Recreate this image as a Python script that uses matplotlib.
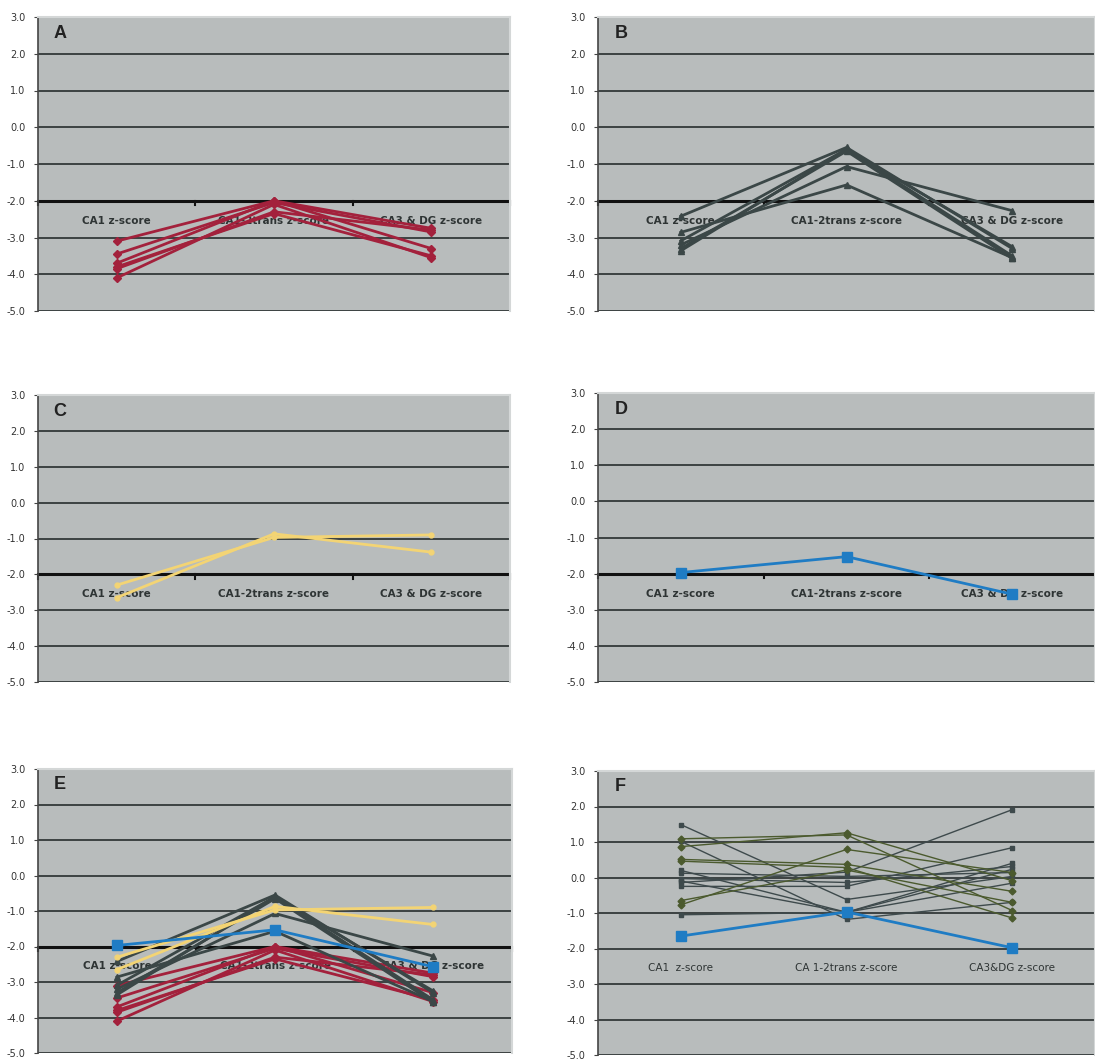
import matplotlib
matplotlib.use('Agg')
import matplotlib.pyplot as plt
import numpy as np

categories = ['CA1 z-score', 'CA1-2trans z-score', 'CA3 & DG z-score']
categories_f = ['CA1  z-score', 'CA 1-2trans z-score', 'CA3&DG z-score']
yticks = [3.0, 2.0, 1.0, 0.0, -1.0, -2.0, -3.0, -4.0, -5.0]

# group A (red)
red_lines = [
    [-3.10, -2.00, -2.75],
    [-3.45, -2.05, -2.85],
    [-3.70, -2.00, -3.30],
    [-3.80, -2.35, -3.50],
    [-4.10, -2.10, -3.55],
    [-3.85, -2.30, -2.80],
]
# group B (dark slate)
dark_lines = [
    [-2.42, -0.55, -3.30],
    [-2.86, -1.57, -3.55],
    [-3.09, -0.60, -3.25],
    [-3.20, -1.07, -2.27],
    [-3.30, -0.65, -3.57],
    [-3.36, -0.60, -3.50],
]
# group C (yellow)
yellow_lines = [
    [-2.65, -0.87, -1.38],
    [-2.30, -0.97, -0.90],
]
# group D (blue)
blue_line = [-1.97, -1.53, -2.57]

# panel F
f_slate = [
    [1.49, -0.62, 0.03],
    [1.02, -1.18, -0.70],
    [0.20, -0.98, 0.23],
    [0.12, 0.03, 0.14],
    [-0.03, -0.14, 0.31],
    [-0.14, 0.15, 1.91],
    [-0.25, -0.25, 0.84],
    [-0.10, -0.98, 0.40],
    [-1.05, -0.98, -0.16],
]
f_olive = [
    [1.09, 1.20, -0.93],
    [0.87, 1.26, -0.09],
    [0.51, 0.37, -0.39],
    [0.46, 0.28, -1.14],
    [-0.65, 0.21, -0.70],
    [-0.77, 0.79, 0.14],
]
f_blue = [-1.65, -0.97, -1.98]

BG = '#b8bcbc'
GRID = '#3c4242'
RED = '#a3213c'
DARK = '#3b4747'
YELLOW = '#f3d474'
BLUE = '#1f7cc4'
SLATE = '#3e4a4c'
OLIVE = '#4b5a2e'

x = np.array([0.5, 1.5, 2.5])

fig = plt.figure(figsize=(10.95, 10.59), dpi=100)
W, H = 1095, 1059


def make_ax(left, right, top, bottom):
    return fig.add_axes([left / W, (H - bottom) / H, (right - left) / W, (bottom - top) / H])


def setup(ax, letter, labels, bold_axis=True):
    ax.set_facecolor(BG)
    ax.set_xlim(0, 3)
    ax.set_ylim(-5, 3)
    for y in yticks[1:]:
        ax.axhline(y, color=GRID, lw=1.4, zorder=1)
    ax.set_yticks(yticks)
    ax.set_yticklabels(['%.1f' % v for v in yticks], fontsize=7, color='#333333')
    ax.tick_params(axis='y', length=3, width=0.8, color='#444444', pad=6)
    ax.set_xticks([])
    ax.spines['bottom'].set_visible(False)
    ax.spines['top'].set_color('#d4d7d7')
    ax.spines['right'].set_color('#d4d7d7')
    ax.spines['top'].set_linewidth(1.5)
    ax.spines['right'].set_linewidth(1.5)
    ax.spines['left'].set_color('#444444')
    ax.spines['left'].set_linewidth(1.2)
    if bold_axis:
        ax.axhline(-2.0, color='#111111', lw=2.2, zorder=2)
        for xt in [0, 1, 2, 3]:
            ax.plot([xt, xt], [-2.0, -2.12], color='#111111', lw=1.5, zorder=2, clip_on=False)
    for xi, lab in zip(x, labels):
        ax.text(xi, -2.56, lab, ha='center', va='center', fontsize=7.5,
                fontweight='bold' if bold_axis else 'normal', color='#2e3434', zorder=3)
    ax.text(0.1, 2.55, letter, fontsize=13, fontweight='bold', color='#222222',
            va='center', ha='left', family='Liberation Sans')


def draw_red(ax):
    for v in red_lines:
        ax.plot(x, v, color=RED, lw=2, marker='D', ms=4, zorder=4)


def draw_dark(ax):
    for v in dark_lines:
        ax.plot(x, v, color=DARK, lw=2, marker='^', ms=5, zorder=4)


def draw_yellow(ax):
    for v in yellow_lines:
        ax.plot(x, v, color=YELLOW, lw=2, marker='o', ms=3.5, zorder=5)


def draw_blue(ax):
    ax.plot(x, blue_line, color=BLUE, lw=2, marker='s', ms=6.5, zorder=6)


axA = make_ax(38, 510, 17, 311)
setup(axA, 'A', categories)
draw_red(axA)

axB = make_ax(598, 1095, 17, 311)
setup(axB, 'B', categories)
draw_dark(axB)

axC = make_ax(38, 510, 395, 682)
setup(axC, 'C', categories)
draw_yellow(axC)

axD = make_ax(598, 1095, 393, 682)
setup(axD, 'D', categories)
draw_blue(axD)

axE = make_ax(38, 512, 769, 1053)
setup(axE, 'E', categories)
draw_red(axE)
draw_dark(axE)
draw_yellow(axE)
draw_blue(axE)

axF = make_ax(598, 1095, 771, 1055)
setup(axF, 'F', categories_f, bold_axis=False)
for v in f_slate:
    axF.plot(x, v, color=SLATE, lw=1.0, marker='s', ms=3.5, zorder=4)
for v in f_olive:
    axF.plot(x, v, color=OLIVE, lw=1.0, marker='D', ms=3.5, zorder=4)
axF.plot(x, f_blue, color=BLUE, lw=2, marker='s', ms=6.5, zorder=6)

fig.savefig('out.png', dpi=100, facecolor='white')
